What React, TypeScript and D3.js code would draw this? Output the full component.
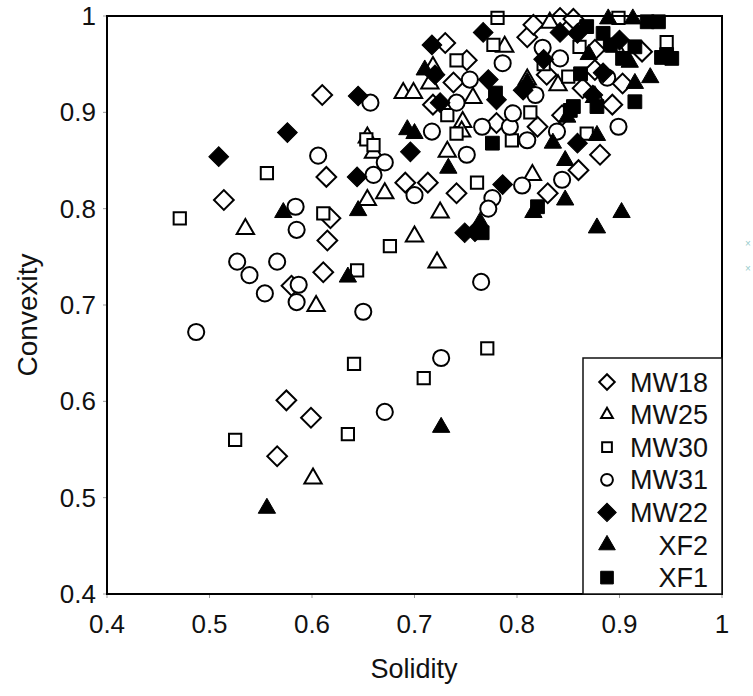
import React from "react";
import * as d3 from "d3";

const xTicks = [0.4, 0.5, 0.6, 0.7, 0.8, 0.9, 1];
const yTicks = [0.4, 0.5, 0.6, 0.7, 0.8, 0.9, 1];
const xTickLabels = ["0.4", "0.5", "0.6", "0.7", "0.8", "0.9", "1"];
const yTickLabels = ["0.4", "0.5", "0.6", "0.7", "0.8", "0.9", "1"];

const seriesNames = ["MW18", "MW25", "MW30", "MW31", "MW22", "XF2", "XF1"];

const MW18 = [[0.610,0.918],[0.514,0.809],[0.614,0.833],[0.618,0.790],[0.615,0.767],[0.611,0.734],[0.580,0.720],[0.575,0.601],[0.599,0.583],[0.566,0.543],[0.730,0.972],[0.751,0.954],[0.738,0.931],[0.718,0.908],[0.691,0.827],[0.713,0.827],[0.741,0.816],[0.810,0.978],[0.816,0.991],[0.842,0.998],[0.855,0.997],[0.829,0.939],[0.820,0.885],[0.830,0.816],[0.860,0.840],[0.881,0.856],[0.893,0.908],[0.922,0.963],[0.876,0.965],[0.876,0.944],[0.864,0.925],[0.903,0.930],[0.780,0.889],[0.844,0.897]];
const MW25 = [[0.535,0.779],[0.604,0.699],[0.601,0.520],[0.689,0.920],[0.699,0.920],[0.715,0.930],[0.718,0.947],[0.757,0.915],[0.747,0.890],[0.732,0.859],[0.654,0.874],[0.660,0.858],[0.671,0.816],[0.654,0.809],[0.725,0.796],[0.700,0.771],[0.722,0.744],[0.815,0.835],[0.832,0.993],[0.840,0.928],[0.810,0.934],[0.896,0.968],[0.876,0.916],[0.788,0.968],[0.746,0.880]];
const MW30 = [[0.471,0.790],[0.556,0.837],[0.525,0.560],[0.611,0.795],[0.644,0.736],[0.641,0.639],[0.635,0.566],[0.709,0.624],[0.771,0.655],[0.676,0.761],[0.653,0.872],[0.660,0.866],[0.741,0.878],[0.781,0.998],[0.777,0.970],[0.741,0.954],[0.732,0.897],[0.813,0.900],[0.795,0.871],[0.850,0.937],[0.861,0.968],[0.946,0.973],[0.868,0.878],[0.899,0.998],[0.761,0.827],[0.826,0.950]];
const MW31 = [[0.487,0.672],[0.527,0.745],[0.539,0.731],[0.554,0.712],[0.566,0.745],[0.585,0.703],[0.587,0.721],[0.584,0.802],[0.585,0.778],[0.606,0.855],[0.657,0.910],[0.660,0.835],[0.671,0.848],[0.650,0.693],[0.671,0.589],[0.726,0.645],[0.765,0.724],[0.700,0.814],[0.717,0.880],[0.751,0.856],[0.741,0.910],[0.754,0.934],[0.766,0.885],[0.776,0.811],[0.805,0.824],[0.793,0.885],[0.810,0.871],[0.796,0.899],[0.786,0.951],[0.825,0.967],[0.842,0.956],[0.818,0.918],[0.844,0.830],[0.839,0.880],[0.888,0.936],[0.899,0.885],[0.772,0.800]];
const MW22 = [[0.509,0.854],[0.576,0.879],[0.645,0.917],[0.644,0.833],[0.717,0.970],[0.720,0.939],[0.725,0.910],[0.696,0.859],[0.767,0.983],[0.749,0.775],[0.759,0.776],[0.786,0.825],[0.772,0.934],[0.859,0.868],[0.859,0.982],[0.842,0.983],[0.780,0.913],[0.806,0.923],[0.874,0.918],[0.884,0.941],[0.826,0.955],[0.900,0.975]];
const XF2 = [[0.556,0.489],[0.726,0.573],[0.635,0.729],[0.572,0.796],[0.645,0.798],[0.693,0.882],[0.710,0.944],[0.889,0.997],[0.913,0.997],[0.910,0.952],[0.930,0.936],[0.915,0.930],[0.849,0.895],[0.878,0.876],[0.847,0.850],[0.847,0.809],[0.902,0.796],[0.878,0.780],[0.733,0.842],[0.835,0.868],[0.810,0.931],[0.764,0.786],[0.816,0.796],[0.870,0.960],[0.700,0.878]];
const XF1 = [[0.766,0.775],[0.776,0.868],[0.820,0.802],[0.927,0.994],[0.946,0.960],[0.915,0.911],[0.878,0.906],[0.855,0.906],[0.884,0.982],[0.868,0.989],[0.941,0.957],[0.891,0.970],[0.915,0.968],[0.903,0.956],[0.779,0.920],[0.852,0.902],[0.938,0.994],[0.951,0.956],[0.862,0.940]];

const seriesData = [MW18, MW25, MW30, MW31, MW22, XF2, XF1];

type Kind = "diamond" | "triangle" | "square" | "circle";
const kinds: Kind[] = ["diamond", "triangle", "square", "circle", "diamond", "triangle", "square"];
const filled = [false, false, false, false, true, true, true];

const W = 753, H = 696;
const X0 = 107, X1 = 722, Y0 = 594, Y1 = 16;
const FONT = "'Liberation Sans', Arial, sans-serif";

function markerPath(kind: Kind, size: number) {
  if (kind === "diamond") return d3.symbol(d3.symbolSquare, size)();
  if (kind === "triangle") return d3.symbol(d3.symbolTriangle, size)();
  if (kind === "square") return d3.symbol(d3.symbolSquare, size)();
  return d3.symbol(d3.symbolCircle, size)();
}

function Marker({ kind, fill, cx, cy, legend }: { kind: Kind; fill: boolean; cx: number; cy: number; legend?: boolean }) {
  const sizes: Record<Kind, number> = legend
    ? { diamond: fill ? 170 : 120, triangle: fill ? 120 : 60, square: fill ? 160 : 95, circle: 110 }
    : { diamond: 195, triangle: 130, square: fill ? 190 : 150, circle: 205 };
  const d = markerPath(kind, sizes[kind]) || "";
  const rot = kind === "diamond" ? 45 : 0;
  return (
    <path
      d={d}
      transform={`translate(${cx},${cy}) rotate(${rot})`}
      fill={fill ? "#000" : "#fff"}
      stroke="#000"
      strokeWidth={fill ? 1 : 2}
    />
  );
}

export default function App() {
  const x = d3.scaleLinear().domain([0.4, 1]).range([X0, X1]);
  const y = d3.scaleLinear().domain([0.4, 1]).range([Y0, Y1]);

  const legendTop = 358;
  const rowY = (i: number) => 382 + i * 32.6;

  return (
    <svg width={W} height={H} style={{ position: "absolute", left: 0, top: 0, background: "#fff" }} fontFamily={FONT}>
      <rect x={0} y={0} width={W} height={H} fill="#fff" />
      {xTicks.map((t, i) => (
        <g key={"xt" + i}>
          <line x1={x(t)} x2={x(t)} y1={Y0} y2={Y0 + 4} stroke="#999" strokeWidth={1} />
          <text x={x(t)} y={633} textAnchor="middle" fontSize={26} fill="#111">{xTickLabels[i]}</text>
        </g>
      ))}
      {yTicks.map((t, i) => (
        <g key={"yt" + i}>
          <line x1={X0 - 4} x2={X0} y1={y(t)} y2={y(t)} stroke="#999" strokeWidth={1} />
          <text x={96} y={y(t) + 9} textAnchor="end" fontSize={26} fill="#111">{yTickLabels[i]}</text>
        </g>
      ))}
      {seriesData.map((pts, si) => (
        <g key={"s" + si}>
          {pts.map((p, pi) => (
            <Marker key={pi} kind={kinds[si]} fill={filled[si]} cx={x(p[0])} cy={y(p[1])} />
          ))}
        </g>
      ))}
      <rect x={X0} y={Y1} width={X1 - X0} height={Y0 - Y1} fill="none" stroke="#000" strokeWidth={2} />
      <rect x={583} y={legendTop} width={X1 - 583} height={Y0 - legendTop} fill="#fff" stroke="#111" strokeWidth={1.5} />
      {seriesNames.map((n, i) => (
        <g key={"lg" + i}>
          <Marker kind={kinds[i]} fill={filled[i]} cx={607} cy={rowY(i)} legend />
          <text x={708} y={rowY(i) + 9.5} textAnchor="end" fontSize={27} fill="#111">{n}</text>
        </g>
      ))}
      <text x={745} y={247} fontSize={10} fill="#9cc">×</text>
      <text x={745} y={272} fontSize={10} fill="#9cc">×</text>
      <text x={414} y={678} textAnchor="middle" fontSize={27} fill="#111">Solidity</text>
      <text transform={`translate(37,${(Y0 + Y1) / 2 + 10}) rotate(-90)`} textAnchor="middle" fontSize={28} fill="#111">Convexity</text>
    </svg>
  );
}
